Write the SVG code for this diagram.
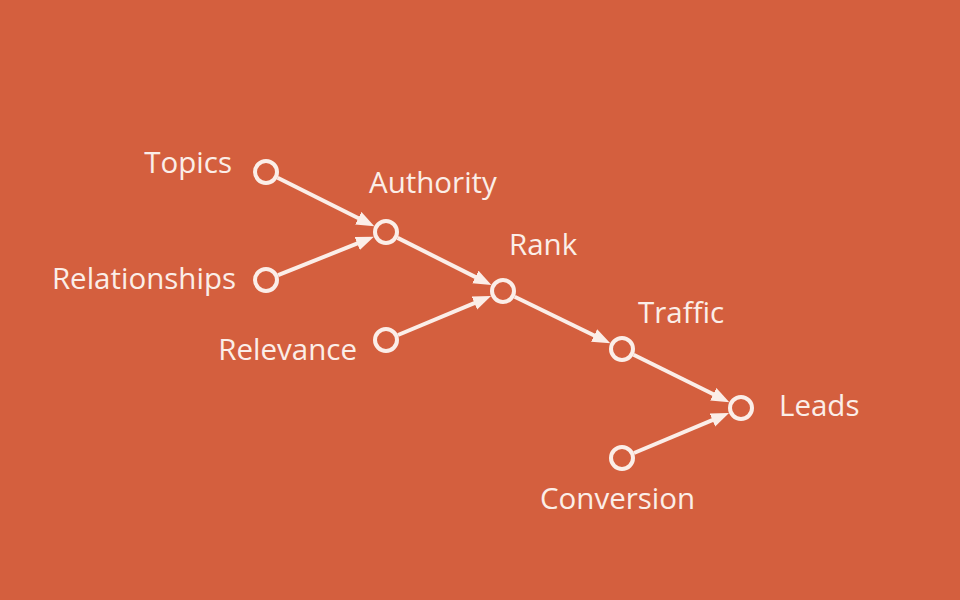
<svg xmlns="http://www.w3.org/2000/svg" width="960" height="600" viewBox="0 0 960 600">
<defs>
<style>
.lbl{font-family:"Open Sans","Noto Sans","Liberation Sans",sans-serif;font-size:29.5px;fill:#fbeee8}
.node circle{fill:none;stroke:#fbeee8;stroke-width:4}
.edge{stroke:#fbeee8;stroke-width:4;fill:none;marker-end:url(#arr)}
</style>
<marker id="arr" markerUnits="userSpaceOnUse" markerWidth="20" markerHeight="16" refX="7" refY="7" orient="auto" viewBox="0 0 20 16">
<path d="M0,0 L18,7 L0,14 Z" fill="#fbeee8"/>
</marker>
</defs>
<rect width="960" height="600" fill="#d45f3e"/>
<g id="connectors">
<line class="edge" x1="277.6" y1="177.8" x2="364.5" y2="221.3"/>
<line class="edge" x1="278.1" y1="275.2" x2="363.7" y2="240.9"/>
<line class="edge" x1="397.6" y1="237.9" x2="481.6" y2="280.1"/>
<line class="edge" x1="398.0" y1="335.0" x2="480.9" y2="300.3"/>
<line class="edge" x1="514.7" y1="296.7" x2="600.4" y2="338.5"/>
<line class="edge" x1="633.6" y1="354.8" x2="719.5" y2="397.3"/>
<line class="edge" x1="634.0" y1="453.0" x2="718.9" y2="417.3"/>
</g>
<g id="topics" class="node"><circle cx="266" cy="172" r="11"/><text class="lbl" x="232" y="173" text-anchor="end">Topics</text></g>
<g id="relationships" class="node"><circle cx="266" cy="280" r="11"/><text class="lbl" x="236" y="289" text-anchor="end">Relationships</text></g>
<g id="authority" class="node"><circle cx="386" cy="232" r="11"/><text class="lbl" x="369" y="193">Authority</text></g>
<g id="relevance" class="node"><circle cx="386" cy="340" r="11"/><text class="lbl" x="357" y="360" text-anchor="end">Relevance</text></g>
<g id="rank" class="node"><circle cx="503" cy="291" r="11"/><text class="lbl" x="509" y="255">Rank</text></g>
<g id="traffic" class="node"><circle cx="622" cy="349" r="11"/><text class="lbl" x="638" y="323">Traffic</text></g>
<g id="leads" class="node"><circle cx="741" cy="408" r="11"/><text class="lbl" x="779" y="416">Leads</text></g>
<g id="conversion" class="node"><circle cx="622" cy="458" r="11"/><text class="lbl" x="540" y="509">Conversion</text></g>
</svg>
